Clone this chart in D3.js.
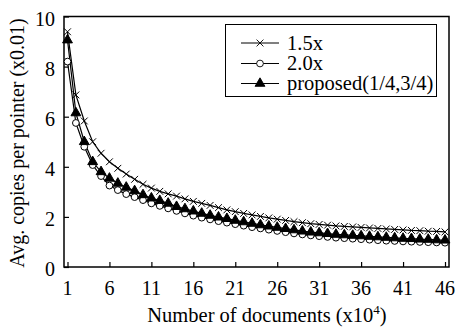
<!DOCTYPE html>
<html>
<head>
<meta charset="utf-8">
<script src="https://cdn.jsdelivr.net/npm/d3@7"></script>
<style>
  body { margin: 0; background: #fff; }
  text { font-family: "Liberation Serif", "Times New Roman", serif; fill: #000; }
</style>
</head>
<body>
<div id="chart"></div>
<script>
// documents (x10^4), one point per step
const docs = d3.range(1, 47);

const series15 = [9.39, 6.87, 5.83, 5.00, 4.54, 4.20, 3.94, 3.71, 3.50, 3.30,
  3.15, 3.02, 2.92, 2.83, 2.72, 2.62, 2.54, 2.46, 2.37, 2.28,
  2.21, 2.14, 2.08, 2.02, 1.96, 1.91, 1.86, 1.81, 1.77, 1.73,
  1.70, 1.67, 1.64, 1.62, 1.60, 1.58, 1.56, 1.54, 1.52, 1.50,
  1.48, 1.46, 1.45, 1.43, 1.42, 1.40];

const series20 = [8.20, 5.75, 4.80, 4.07, 3.63, 3.25, 3.07, 2.91, 2.79, 2.67,
  2.54, 2.44, 2.34, 2.24, 2.14, 2.05, 1.97, 1.90, 1.83, 1.77,
  1.71, 1.65, 1.59, 1.54, 1.49, 1.44, 1.39, 1.34, 1.30, 1.26,
  1.23, 1.20, 1.17, 1.15, 1.13, 1.11, 1.09, 1.07, 1.05, 1.04,
  1.02, 1.01, 1.00, 0.99, 0.98, 0.97];

const seriesProp = [9.06, 6.15, 5.00, 4.20, 3.80, 3.54, 3.34, 3.18, 3.04, 2.88,
  2.75, 2.65, 2.54, 2.41, 2.32, 2.23, 2.14, 2.06, 1.99, 1.93,
  1.86, 1.80, 1.74, 1.68, 1.63, 1.58, 1.53, 1.48, 1.43, 1.39,
  1.36, 1.33, 1.30, 1.28, 1.26, 1.24, 1.22, 1.20, 1.18, 1.16,
  1.14, 1.13, 1.11, 1.10, 1.08, 1.07];

const xTicks = [1, 6, 11, 16, 21, 26, 31, 36, 41, 46];
const yTicks = [0, 2, 4, 6, 8, 10];
const seriesNames = ["1.5x", "2.0x", "proposed(1/4,3/4)"];

const width = 457, height = 328;
const frame = { left: 64, right: 449, top: 16.5, bottom: 267 };

const svg = d3.select("#chart").append("svg")
  .attr("width", width)
  .attr("height", height);

const x = d3.scaleLinear().domain([1, 46]).range([67.5, 445]);
const y = d3.scaleLinear().domain([0, 10]).range([frame.bottom, frame.top]);

// frame
svg.append("rect")
  .attr("x", frame.left)
  .attr("y", frame.top)
  .attr("width", frame.right - frame.left)
  .attr("height", frame.bottom - frame.top)
  .attr("fill", "none")
  .attr("stroke", "#000")
  .attr("stroke-width", 1.5);

// axes, ticks pointing inward
const xAxis = d3.axisTop(x).tickValues(xTicks).tickSize(5).tickFormat("");
svg.append("g")
  .attr("transform", `translate(0,${frame.bottom})`)
  .call(xAxis)
  .call(g => g.select(".domain").remove())
  .call(g => g.selectAll("line").attr("stroke-width", 1.2));

svg.append("g").selectAll("text")
  .data(xTicks)
  .enter().append("text")
  .attr("x", d => x(d))
  .attr("y", 295)
  .attr("text-anchor", "middle")
  .attr("font-size", 20)
  .text(d => d);

const yAxis = d3.axisRight(y).tickValues(yTicks).tickSize(5).tickFormat("");
svg.append("g")
  .attr("transform", `translate(${frame.left},0)`)
  .call(yAxis)
  .call(g => g.select(".domain").remove())
  .call(g => g.selectAll("line").attr("stroke-width", 1.2));

svg.append("g").selectAll("text")
  .data(yTicks)
  .enter().append("text")
  .attr("x", 55)
  .attr("y", d => y(d) + 2)
  .attr("dy", "0.35em")
  .attr("text-anchor", "end")
  .attr("font-size", 20)
  .text(d => d);

// axis titles
const xTitle = svg.append("text")
  .attr("x", 267)
  .attr("y", 322)
  .attr("text-anchor", "middle")
  .attr("font-size", 20.5);
xTitle.append("tspan").text("Number of documents (x10");
xTitle.append("tspan").attr("font-size", 13).attr("dy", -8).text("4");
xTitle.append("tspan").attr("dy", 8).text(")");

svg.append("text")
  .attr("transform", "rotate(-90)")
  .attr("x", -143)
  .attr("y", 24)
  .attr("text-anchor", "middle")
  .attr("font-size", 20)
  .text("Avg. copies per pointer (x0.01)");

// series
const line = d3.line()
  .x((d, i) => x(docs[i]))
  .y(d => y(d));

function drawLine(vals) {
  svg.append("path")
    .datum(vals)
    .attr("fill", "none")
    .attr("stroke", "#000")
    .attr("stroke-width", 1.2)
    .attr("d", line);
}

drawLine(series15);
drawLine(series20);
drawLine(seriesProp);

const crossSym = d3.symbol().type(d3.symbolX).size(32);
const circleSym = d3.symbol().type(d3.symbolCircle).size(36);
const triSym = d3.symbol().type(d3.symbolTriangle).size(42);

function drawMarks(vals, sym, fill) {
  svg.append("g").selectAll("path")
    .data(vals)
    .enter().append("path")
    .attr("transform", (d, i) => `translate(${x(docs[i])},${y(d)})`)
    .attr("d", sym)
    .attr("fill", fill)
    .attr("stroke", "#000")
    .attr("stroke-width", 1);
}

drawMarks(series15, crossSym, "none");
drawMarks(series20, circleSym, "#fff");
drawMarks(seriesProp, triSym, "#000");

// legend
const legend = svg.append("g");
legend.append("rect")
  .attr("x", 225.5)
  .attr("y", 24.5)
  .attr("width", 211)
  .attr("height", 72)
  .attr("fill", "#fff")
  .attr("stroke", "#000")
  .attr("stroke-width", 1);

const legendSyms = [crossSym, circleSym, triSym];
const legendFills = ["none", "#fff", "#000"];
const rowY = [43, 63.5, 83.5];

seriesNames.forEach((name, i) => {
  legend.append("line")
    .attr("x1", 241).attr("x2", 279)
    .attr("y1", rowY[i]).attr("y2", rowY[i])
    .attr("stroke", "#000")
    .attr("stroke-width", 1);
  legend.append("path")
    .attr("transform", `translate(260,${rowY[i]})`)
    .attr("d", legendSyms[i])
    .attr("fill", legendFills[i])
    .attr("stroke", "#000")
    .attr("stroke-width", 0.9);
  legend.append("text")
    .attr("x", 287)
    .attr("y", rowY[i])
    .attr("dy", "0.33em")
    .attr("font-size", 20.5)
    .text(name);
});
</script>
</body>
</html>
